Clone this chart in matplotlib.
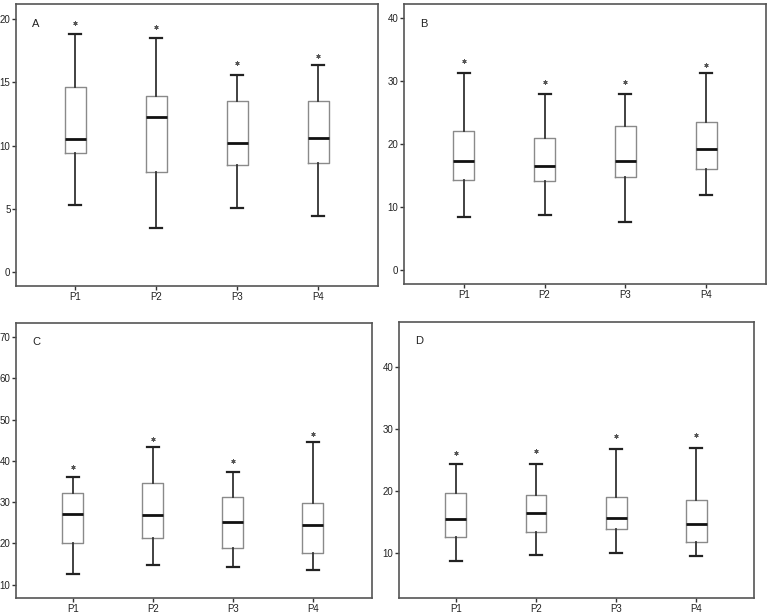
import matplotlib
matplotlib.use('Agg')
import matplotlib.pyplot as plt

plt.rcParams['font.family'] = ['Liberation Sans Narrow', 'Liberation Sans', 'DejaVu Sans']

groups = ['P1', 'P2', 'P3', 'P4']

##box stats per panel: whisker low, Q1, median, Q3, whisker high, outlier
a_low = [5.3, 3.5, 5.1, 4.4]
a_q1 = [9.4, 7.9, 8.5, 8.6]
a_med = [10.5, 12.3, 10.2, 10.6]
a_q3 = [14.6, 13.9, 13.5, 13.5]
a_high = [18.8, 18.5, 15.6, 16.4]
a_out = [19.7, 19.4, 16.5, 17.1]

b_low = [8.5, 8.8, 7.7, 11.9]
b_q1 = [14.4, 14.1, 14.8, 16.1]
b_med = [17.4, 16.6, 17.3, 19.3]
b_q3 = [22.1, 21.0, 22.9, 23.5]
b_high = [31.4, 28.0, 28.0, 31.4]
b_out = [33.2, 29.9, 29.9, 32.6]

c_low = [12.7, 14.7, 14.3, 13.5]
c_q1 = [20.1, 21.4, 19.0, 17.8]
c_med = [27.1, 27.0, 25.3, 24.5]
c_q3 = [32.2, 34.6, 31.3, 29.9]
c_high = [36.1, 43.4, 37.4, 44.5]
c_out = [38.5, 45.2, 39.9, 46.5]

d_low = [8.7, 9.6, 9.9, 9.5]
d_q1 = [12.6, 13.4, 13.8, 11.7]
d_med = [15.4, 16.4, 15.6, 14.6]
d_q3 = [19.6, 19.4, 19.0, 18.6]
d_high = [24.3, 24.3, 26.7, 27.0]
d_out = [26.1, 26.4, 28.8, 29.1]

W, H = 771, 615
fig = plt.figure(figsize=(W / 100, H / 100), dpi=100)


def panel(px, letter, low, q1, med, q3, high, out, ylim, yticks, xlim):
    l, t, r, b = px
    ax = fig.add_axes([l / W, (H - b) / H, (r - l) / W, (b - t) / H])
    stats = []
    for i in range(len(groups)):
        stats.append({'whislo': low[i], 'q1': q1[i], 'med': med[i], 'q3': q3[i],
                      'whishi': high[i], 'fliers': [out[i]]})
    ax.bxp(stats, positions=range(len(groups)), widths=0.26, capwidths=0.15,
           boxprops=dict(color='#8a8a8a', linewidth=1.0),
           medianprops=dict(color='#111111', linewidth=2.0),
           whiskerprops=dict(color='#333333', linewidth=1.3),
           capprops=dict(color='#222222', linewidth=1.6),
           flierprops=dict(marker=(6, 2, 0), markersize=3.0, markeredgecolor='#555555',
                           markeredgewidth=0.7, linestyle='none'))
    ax.set_xlim(*xlim)
    ax.set_ylim(*ylim)
    ax.set_yticks(yticks)
    ax.set_xticks(range(len(groups)))
    ax.set_xticklabels(groups)
    for s in ax.spines.values():
        s.set_color('#555555')
        s.set_linewidth(1.2)
    ax.tick_params(axis='y', length=3, width=1, color='#333333', pad=1, labelsize=7, labelcolor='#222222')
    ax.tick_params(axis='x', length=3, width=1, color='#333333', pad=1, labelsize=7, labelcolor='#222222')
    ax.text(0.045, 0.93, letter, transform=ax.transAxes, fontsize=8, color='#222222', va='center')
    return ax


panel((16, 4, 378, 286), 'A', a_low, a_q1, a_med, a_q3, a_high, a_out,
      (-1.1, 21.2), [0, 5, 10, 15, 20], (-0.73, 3.74))
panel((404, 4, 766, 284), 'B', b_low, b_q1, b_med, b_q3, b_high, b_out,
      (-2.2, 42.3), [0, 10, 20, 30, 40], (-0.74, 3.74))
panel((16, 323, 372, 598), 'C', c_low, c_q1, c_med, c_q3, c_high, c_out,
      (6.8, 73.4), [10, 20, 30, 40, 50, 60, 70], (-0.71, 3.74))
panel((399, 322, 754, 598), 'D', d_low, d_q1, d_med, d_q3, d_high, d_out,
      (2.7, 47.3), [10, 20, 30, 40], (-0.71, 3.72))

fig.savefig('out.png', dpi=100)
